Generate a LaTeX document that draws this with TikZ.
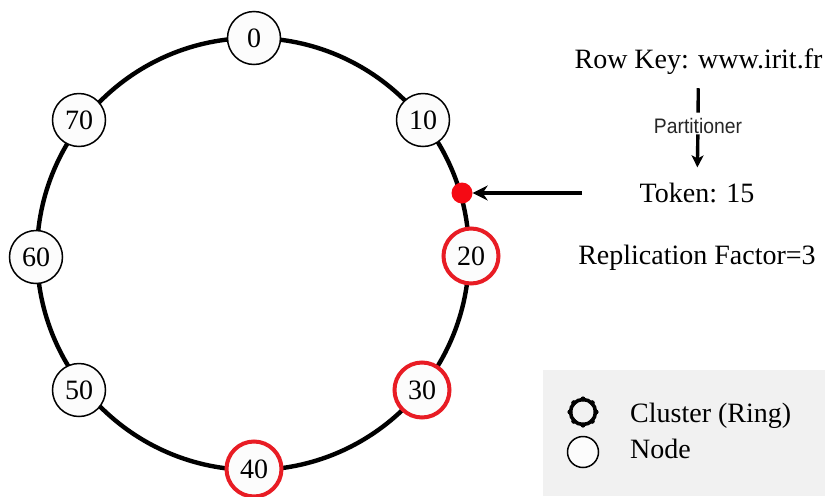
\documentclass[tikz,border=0pt]{standalone}
\usepackage{fontspec}
\setmainfont{Liberation Serif}
\newfontfamily\partfont[FakeStretch=0.92]{Liberation Sans}
\usetikzlibrary{arrows.meta,calc}
\definecolor{ringred}{RGB}{232,28,36}
\definecolor{dotred}{RGB}{245,10,20}
\definecolor{legendgray}{RGB}{241,241,241}
\definecolor{offwhite}{RGB}{252,252,252}
\tikzset{
  ringline/.style={line width=4.4pt, black},
  ringnode/.style={circle, draw=black, line width=1.5pt, fill=offwhite, minimum size=53pt, inner sep=0pt, font=\fontsize{28}{32}\selectfont},
  replnode/.style={ringnode, draw=ringred, line width=4pt, minimum size=55pt},
  bigtext/.style={anchor=base, inner sep=0pt, font=\fontsize{28}{34}\selectfont},
  parttext/.style={anchor=base, inner sep=0pt, text=black!85, font=\partfont\fontsize{21}{24}\selectfont},
  thickline/.style={line width=3.4pt, black},
  arrowline/.style={line width=3.4pt, black, -{Stealth[length=15pt, width=15pt, inset=5pt]}},
  token/.style={circle, fill=dotred, minimum size=21pt, inner sep=0pt},
}
\begin{document}
\begin{tikzpicture}[x=1pt, y=-1pt]
\useasboundingbox (0,0) rectangle (825,496);
% ring
\coordinate (c) at (253,254);
\draw[ringline] (c) circle[radius=216pt];
% nodes
\node[ringnode] (n0)  at (254,38)  {0};
\node[ringnode] (n10) at (423,120) {10};
\node[replnode] (n20) at (471,256) {20};
\node[replnode] (n30) at (422,390) {30};
\node[replnode] (n40) at (254,469) {40};
\node[ringnode] (n50) at (79,390)  {50};
\node[ringnode] (n60) at (36,257)  {60};
\node[ringnode] (n70) at (79,120)  {70};
% token position
\node[token] (tok) at (462,193) {};
% texts
\node[bigtext] (rowkey) at (698.5,68) {Row Key: www.irit.fr};
\node[parttext] (part) at (698,133) {Partitioner};
\node[bigtext] (token) at (697,202) {Token: 15};
\node[bigtext] (repl) at (697,264) {Replication Factor=3};
% connectors
\draw[thickline, shorten <=14pt, shorten >=5pt] (rowkey) -- (part);
\draw[line width=3.4pt, -{Stealth[length=12pt, width=12pt, inset=3pt]}, shorten <=1pt, shorten >=15pt] (part) -- (token);
\coordinate (arrowstart) at (582,193);
\draw[arrowline] (arrowstart) -- (tok);
% legend
\fill[legendgray] (543,370) rectangle (825,496);
\node[circle, draw=black, line width=3.6pt, minimum size=25pt, inner sep=0pt] (lcluster) at (583,412) {};
\foreach \a in {0,45,...,315}{
  \fill[black] ($(lcluster.center)+(\a:13pt)$) circle[radius=2.6pt];
}
\node[circle, draw=black, line width=1.5pt, fill=offwhite, minimum size=31pt, inner sep=0pt] (lnode) at (583,452) {};
\node[bigtext, anchor=base west] (lclustertext) at (630,422) {Cluster (Ring)};
\node[bigtext, anchor=base west] (lnodetext) at (630,458) {Node};
\end{tikzpicture}
\end{document}
